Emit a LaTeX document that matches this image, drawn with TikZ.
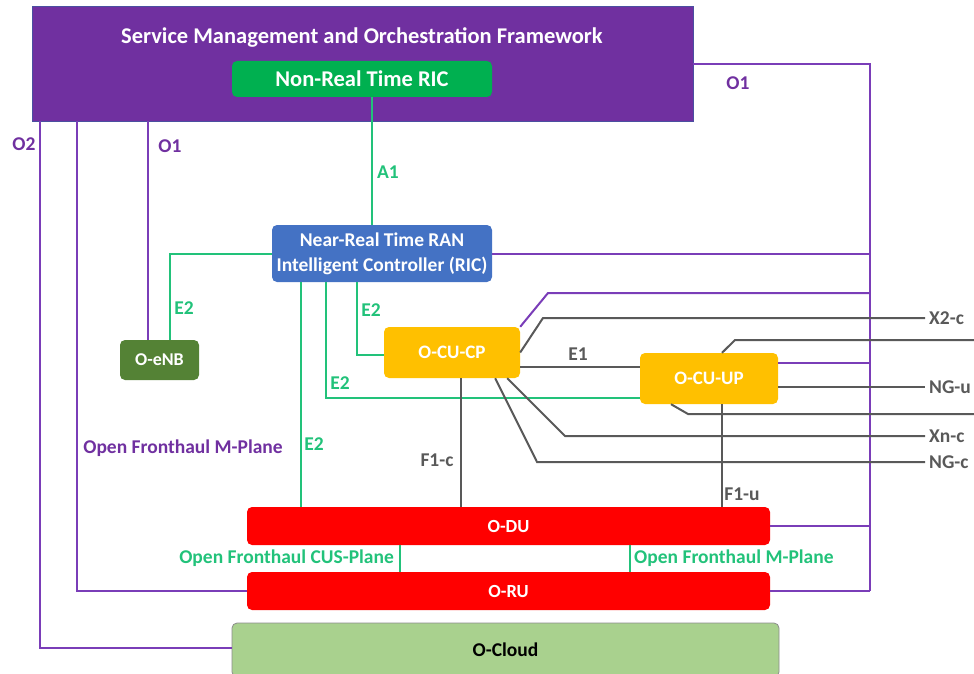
\documentclass[tikz,border=0pt]{standalone}
\usepackage{fontspec}
\setmainfont{Carlito}
\usetikzlibrary{calc}
\definecolor{smofill}{HTML}{7030A0}
\definecolor{smoedge}{HTML}{4A4FA0}
\definecolor{purp}{HTML}{7A3DB8}
\definecolor{grn}{HTML}{22C27A}
\definecolor{gry}{HTML}{595959}
\definecolor{nrtfill}{HTML}{00B050}
\definecolor{ricfill}{HTML}{4472C4}
\definecolor{enbfill}{HTML}{548235}
\definecolor{cufill}{HTML}{FFC000}
\definecolor{cloudfill}{HTML}{A9D18E}
\definecolor{cloudedge}{HTML}{8C8C8C}
\tikzset{
  box/.style={rounded corners=5pt, inner sep=0pt, text=white, align=center},
  fs/.style={font=\fontsize{#1}{25}\selectfont\bfseries},
  plink/.style={draw=purp, line width=2pt},
  glink/.style={draw=grn, line width=2pt},
  klink/.style={draw=gry, line width=2pt},
  plab/.style={text=smofill, fs=19.5, inner sep=0pt},
  glab/.style={text=grn, fs=19.5, inner sep=0pt},
  klab/.style={text=gry, fs=19.5, inner sep=0pt},
}
\begin{document}
\begin{tikzpicture}[x=1pt, y=-1pt]
\useasboundingbox (0,0) rectangle (974,674);

% ---- boxes ----
\node[fill=smofill, draw=smoedge, line width=0.8pt, minimum width=661pt, minimum height=115pt] (smo) at (362.5,63.5) {};
\node[text=white, fs=22.5] (smotitle) at (362,37) {Service Management and Orchestration Framework};
\node[box, fill=nrtfill, minimum width=260pt, minimum height=36pt, fs=22.5] (nrt) at (362,79) {Non-Real Time RIC};
\node[box, fill=ricfill, minimum width=220pt, minimum height=57pt, fs=19.5] (ric) at (382,253.5) {Near-Real Time RAN\\Intelligent Controller (RIC)};
\node[box, fill=enbfill, minimum width=79pt, minimum height=40pt, fs=18] (enb) at (159.5,360) {O-eNB};
\node[box, fill=cufill, minimum width=136pt, minimum height=51pt, fs=19] (cucp) at (452,352.5) {O-CU-CP};
\node[box, fill=cufill, minimum width=138pt, minimum height=51pt, fs=19] (cuup) at (709,378.5) {O-CU-UP};
\node[box, fill=red, minimum width=523pt, minimum height=38pt, fs=18.5] (odu) at (508.5,526) {O-DU};
\node[box, fill=red, minimum width=523pt, minimum height=38pt, fs=18.5] (oru) at (508.5,591) {O-RU};
\node[box, fill=cloudfill, draw=cloudedge, line width=0.8pt, text=black, minimum width=547pt, minimum height=54pt, fs=19.5] (ocloud) at (505.5,650) {O-Cloud};

% ---- bend points ----
\coordinate (bus) at (870,64);
\coordinate (k1) at (548,293);
\coordinate (o2) at (40,648);
\coordinate (mp) at (77,591);
\coordinate (o1e) at (148,0);
\coordinate (a1) at (372,0);
\coordinate (e2a) at (170,252);
\coordinate (e2b) at (357,355);
\coordinate (e2c) at (326,398);
\coordinate (e2d) at (301,0);
\coordinate (cus) at (400,0);
\coordinate (mpl) at (630,0);
\coordinate (e1) at (0,367);
\coordinate (x2a) at (543,318);
\coordinate (u1) at (735,340);
\coordinate (u1e) at (974,340);
\coordinate (u2) at (688,414);
\coordinate (u2e) at (974,414);
\coordinate (xna) at (565,436);
\coordinate (nga) at (537,462);
\coordinate (f1c) at (461,0);
\coordinate (f1u) at (722,0);

% ---- right-hand labels ----
\tikzset{rlab/.style={klab, anchor=west, inner xsep=4pt}}
\node[rlab] (lx2) at (925,318) {X2-c};
\node[rlab] (lngu) at (925,387) {NG-u};
\node[rlab] (lxn) at (925,436) {Xn-c};
\node[rlab] (lngc) at (925,462) {NG-c};

% ---- management links (purple) ----
\draw[plink] (smo.east |- bus) -- (bus) -- (bus |- oru.east);
\draw[plink] (ric.east) -- (ric.east -| bus);
\draw[plink] (cucp.north east) -- (k1) -- (k1 -| bus);
\draw[plink] ([yshift=16pt]cuup.east) -- ([yshift=16pt]cuup.east -| bus);
\draw[plink] (odu.east) -- (odu.east -| bus);
\draw[plink] (oru.east) -- (oru.east -| bus);
\draw[plink] (smo.south -| o2) -- (o2) -- (o2 -| ocloud.west);
\draw[plink] (smo.south -| mp) -- (mp) -- (oru.west);
\draw[plink] (smo.south -| o1e) -- (enb.north -| o1e);

% ---- RIC links (green) ----
\draw[glink] (nrt.south -| a1) -- (ric.north -| a1);
\draw[glink] (ric.west) -- (ric.west -| e2a) -- (enb.north -| e2a);
\draw[glink] (ric.south -| e2b) -- (e2b) -- (e2b -| cucp.west);
\draw[glink] (ric.south -| e2c) -- (e2c) -- (e2c -| cuup.west);
\draw[glink] (ric.south -| e2d) -- (odu.north -| e2d);
\draw[glink] (odu.south -| cus) -- (oru.north -| cus);
\draw[glink] (odu.south -| mpl) -- (oru.north -| mpl);

% ---- RAN interfaces (grey) ----
\draw[klink] (cucp.east |- e1) -- (cuup.west |- e1);
\draw[klink] (cucp.east) -- (x2a) -- (lx2.west);
\draw[klink] ([xshift=13pt]cuup.north) -- (u1) -- (u1e);
\draw[klink] ([yshift=-8.5pt]cuup.east) -- (lngu.west);
\draw[klink] ([xshift=-38pt]cuup.south) -- (u2) -- (u2e);
\draw[klink] ([xshift=-13pt]cucp.south east) -- (xna) -- (lxn.west);
\draw[klink] ([xshift=-25pt]cucp.south east) -- (nga) -- (lngc.west);
\draw[klink] (cucp.south -| f1c) -- (odu.north -| f1c);
\draw[klink] (cuup.south -| f1u) -- (odu.north -| f1u);

% ---- interface labels ----
\node[plab] (lo1r) at (738,83) {O1};
\node[plab] (lo2) at (24,144) {O2};
\node[plab] (lo1l) at (170,146) {O1};
\node[plab] (lmpl) at (183,448) {Open Fronthaul M-Plane};
\node[glab] (la1) at (388,172) {A1};
\node[glab] (le2a) at (184,308) {E2};
\node[glab] (le2b) at (371,310) {E2};
\node[glab] (le2c) at (340,383) {E2};
\node[glab] (le2d) at (314,444) {E2};
\node[glab, anchor=east] (lcus) at (394,558) {Open Fronthaul CUS-Plane};
\node[glab, anchor=west] (lmpr) at (634,558) {Open Fronthaul M-Plane};
\node[klab] (le1) at (578,354) {E1};
\node[klab] (lf1c) at (437,460) {F1-c};
\node[klab] (lf1u) at (742,494) {F1-u};
\end{tikzpicture}
\end{document}
